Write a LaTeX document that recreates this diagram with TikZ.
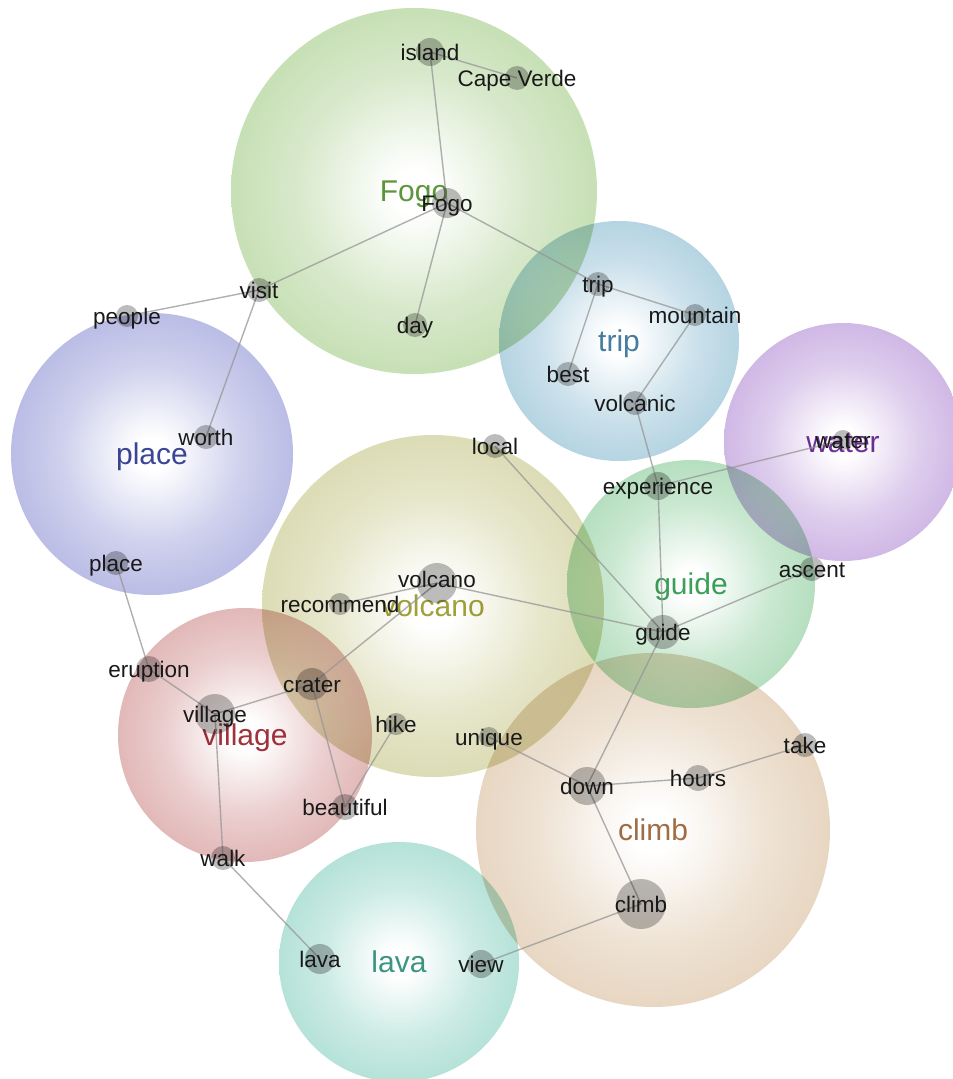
\documentclass[tikz,border=0pt]{standalone}
\usepackage{fontspec}
\setmainfont{Liberation Sans}
\pgfdeclareradialshading[bubcol]{bubble}{\pgfpoint{0bp}{0bp}}{color(0bp)=(white); color(3bp)=(white); color(16bp)=(bubcol!45!white); color(36bp)=(bubcol!88!white); color(50bp)=(bubcol)}
\definecolor{cFogo}{RGB}{168,206,140}
\definecolor{tFogo}{RGB}{95,150,60}
\definecolor{cTrip}{RGB}{140,188,210}
\definecolor{tTrip}{RGB}{70,125,160}
\definecolor{cWater}{RGB}{182,145,215}
\definecolor{tWater}{RGB}{110,50,150}
\definecolor{cPlace}{RGB}{148,152,215}
\definecolor{tPlace}{RGB}{60,70,150}
\definecolor{cVolcano}{RGB}{200,200,140}
\definecolor{tVolcano}{RGB}{160,160,60}
\definecolor{cGuide}{RGB}{140,205,155}
\definecolor{tGuide}{RGB}{60,160,90}
\definecolor{cVillage}{RGB}{210,145,145}
\definecolor{tVillage}{RGB}{160,50,60}
\definecolor{cClimb}{RGB}{218,192,160}
\definecolor{tClimb}{RGB}{160,110,70}
\definecolor{cLava}{RGB}{140,210,195}
\definecolor{tLava}{RGB}{60,150,130}
\definecolor{edgecol}{RGB}{150,150,150}
\definecolor{dotcol}{RGB}{188,188,188}
\definecolor{txtcol}{RGB}{25,25,25}
\tikzset{
  bub/.style={circle, inner sep=0pt, shading=bubble, minimum size=#1,
    font=\fontsize{30}{30}\selectfont, text height=21.5pt, text depth=0pt},
  edge/.style={draw=edgecol, line width=1.4pt, draw opacity=0.75},
  dot/.style={circle, inner sep=0pt, fill=dotcol, minimum size=#1},
  lbl/.style={font=\fontsize{22.5}{22.5}\selectfont, text=txtcol, inner sep=0pt,
    text height=16pt, text depth=0pt}
}
\begin{document}
\begin{tikzpicture}[x=1pt,y=-1pt]
\fill[white] (0,0) rectangle (953,1079);
\useasboundingbox (0,0) rectangle (953,1079);
% positions
\coordinate (p-island) at (430,52);
\coordinate (p-capeverde) at (517,78);
\coordinate (p-fogo) at (447,203);
\coordinate (p-visit) at (259,290);
\coordinate (p-people) at (127,316);
\coordinate (p-day) at (415,325);
\coordinate (p-trip) at (598,284);
\coordinate (p-mountain) at (695,315);
\coordinate (p-best) at (568,374);
\coordinate (p-volcanic) at (635,403);
\coordinate (p-worth) at (206,437);
\coordinate (p-local) at (495,446);
\coordinate (p-experience) at (658,486);
\coordinate (p-water) at (843,440);
\coordinate (p-ascent) at (812,569);
\coordinate (p-place) at (116,563);
\coordinate (p-volcano) at (437,583);
\coordinate (p-recommend) at (340,604);
\coordinate (p-guide) at (663,632);
\coordinate (p-eruption) at (149,669);
\coordinate (p-crater) at (312,684);
\coordinate (p-village) at (215,714);
\coordinate (p-hike) at (396,724);
\coordinate (p-unique) at (489,737);
\coordinate (p-take) at (805,745);
\coordinate (p-hours) at (698,778);
\coordinate (p-down) at (587,786);
\coordinate (p-beautiful) at (345,807);
\coordinate (p-walk) at (223,858);
\coordinate (p-climb) at (641,904);
\coordinate (p-lava) at (320,959);
\coordinate (p-view) at (481,964);
% bubbles
\begin{scope}[blend mode=multiply]
\colorlet{bubcol}{cFogo}
\node[bub=366pt, text=tFogo] (bFogo) at (414,191) {Fogo};
\colorlet{bubcol}{cTrip}
\node[bub=240pt, text=tTrip] (bTrip) at (619,341) {trip};
\colorlet{bubcol}{cWater}
\node[bub=238pt, text=tWater] (bWater) at (843,442) {water};
\colorlet{bubcol}{cPlace}
\node[bub=282pt, text=tPlace] (bPlace) at (152,454) {place};
\colorlet{bubcol}{cVolcano}
\node[bub=342pt, text=tVolcano] (bVolcano) at (433,606) {volcano};
\colorlet{bubcol}{cGuide}
\node[bub=248pt, text=tGuide] (bGuide) at (691,584) {guide};
\colorlet{bubcol}{cVillage}
\node[bub=254pt, text=tVillage] (bVillage) at (245,735) {village};
\colorlet{bubcol}{cClimb}
\node[bub=354pt, text=tClimb] (bClimb) at (653,830) {climb};
\colorlet{bubcol}{cLava}
\node[bub=240pt, text=tLava] (bLava) at (399,962) {lava};
\end{scope}
% edges
\draw[edge] (p-island) -- (p-capeverde);
\draw[edge] (p-island) -- (p-fogo);
\draw[edge] (p-fogo) -- (p-visit);
\draw[edge] (p-fogo) -- (p-day);
\draw[edge] (p-fogo) -- (p-trip);
\draw[edge] (p-visit) -- (p-people);
\draw[edge] (p-visit) -- (p-worth);
\draw[edge] (p-trip) -- (p-mountain);
\draw[edge] (p-trip) -- (p-best);
\draw[edge] (p-mountain) -- (p-volcanic);
\draw[edge] (p-volcanic) -- (p-experience);
\draw[edge] (p-experience) -- (p-water);
\draw[edge] (p-experience) -- (p-guide);
\draw[edge] (p-local) -- (p-guide);
\draw[edge] (p-volcano) -- (p-guide);
\draw[edge] (p-guide) -- (p-ascent);
\draw[edge] (p-guide) -- (p-down);
\draw[edge] (p-volcano) -- (p-recommend);
\draw[edge] (p-volcano) -- (p-crater);
\draw[edge] (p-place) -- (p-eruption);
\draw[edge] (p-eruption) -- (p-village);
\draw[edge] (p-village) -- (p-crater);
\draw[edge] (p-crater) -- (p-beautiful);
\draw[edge] (p-beautiful) -- (p-hike);
\draw[edge] (p-village) -- (p-walk);
\draw[edge] (p-walk) -- (p-lava);
\draw[edge] (p-unique) -- (p-down);
\draw[edge] (p-down) -- (p-hours);
\draw[edge] (p-hours) -- (p-take);
\draw[edge] (p-down) -- (p-climb);
\draw[edge] (p-climb) -- (p-view);
% dots
\begin{scope}[blend mode=multiply]
\node[dot=28pt] (d-island) at (p-island) {};
\node[dot=24pt] (d-capeverde) at (p-capeverde) {};
\node[dot=30pt] (d-fogo) at (p-fogo) {};
\node[dot=24pt] (d-visit) at (p-visit) {};
\node[dot=22pt] (d-people) at (p-people) {};
\node[dot=24pt] (d-day) at (p-day) {};
\node[dot=24pt] (d-trip) at (p-trip) {};
\node[dot=22pt] (d-mountain) at (p-mountain) {};
\node[dot=24pt] (d-best) at (p-best) {};
\node[dot=24pt] (d-volcanic) at (p-volcanic) {};
\node[dot=24pt] (d-worth) at (p-worth) {};
\node[dot=24pt] (d-local) at (p-local) {};
\node[dot=28pt] (d-experience) at (p-experience) {};
\node[dot=20pt] (d-water) at (p-water) {};
\node[dot=24pt] (d-ascent) at (p-ascent) {};
\node[dot=24pt] (d-place) at (p-place) {};
\node[dot=40pt] (d-volcano) at (p-volcano) {};
\node[dot=22pt] (d-recommend) at (p-recommend) {};
\node[dot=34pt] (d-guide) at (p-guide) {};
\node[dot=26pt] (d-eruption) at (p-eruption) {};
\node[dot=32pt] (d-crater) at (p-crater) {};
\node[dot=40pt] (d-village) at (p-village) {};
\node[dot=22pt] (d-hike) at (p-hike) {};
\node[dot=20pt] (d-unique) at (p-unique) {};
\node[dot=24pt] (d-take) at (p-take) {};
\node[dot=26pt] (d-hours) at (p-hours) {};
\node[dot=38pt] (d-down) at (p-down) {};
\node[dot=26pt] (d-beautiful) at (p-beautiful) {};
\node[dot=24pt] (d-walk) at (p-walk) {};
\node[dot=50pt] (d-climb) at (p-climb) {};
\node[dot=30pt] (d-lava) at (p-lava) {};
\node[dot=28pt] (d-view) at (p-view) {};
\end{scope}
% labels
\node[lbl] (t-island) at (p-island) {island};
\node[lbl] (t-capeverde) at (p-capeverde) {Cape Verde};
\node[lbl] (t-fogo) at (p-fogo) {Fogo};
\node[lbl] (t-visit) at (p-visit) {visit};
\node[lbl] (t-people) at (p-people) {people};
\node[lbl] (t-day) at (p-day) {day};
\node[lbl] (t-trip) at (p-trip) {trip};
\node[lbl] (t-mountain) at (p-mountain) {mountain};
\node[lbl] (t-best) at (p-best) {best};
\node[lbl] (t-volcanic) at (p-volcanic) {volcanic};
\node[lbl] (t-worth) at (p-worth) {worth};
\node[lbl] (t-local) at (p-local) {local};
\node[lbl] (t-experience) at (p-experience) {experience};
\node[lbl] (t-water) at (p-water) {water};
\node[lbl] (t-ascent) at (p-ascent) {ascent};
\node[lbl] (t-place) at (p-place) {place};
\node[lbl] (t-volcano) at ([yshift=4pt]p-volcano) {volcano};
\node[lbl] (t-recommend) at (p-recommend) {recommend};
\node[lbl] (t-guide) at (p-guide) {guide};
\node[lbl] (t-eruption) at (p-eruption) {eruption};
\node[lbl] (t-crater) at (p-crater) {crater};
\node[lbl] (t-village) at (p-village) {village};
\node[lbl] (t-hike) at (p-hike) {hike};
\node[lbl] (t-unique) at (p-unique) {unique};
\node[lbl] (t-take) at (p-take) {take};
\node[lbl] (t-hours) at (p-hours) {hours};
\node[lbl] (t-down) at (p-down) {down};
\node[lbl] (t-beautiful) at (p-beautiful) {beautiful};
\node[lbl] (t-walk) at (p-walk) {walk};
\node[lbl] (t-climb) at (p-climb) {climb};
\node[lbl] (t-lava) at (p-lava) {lava};
\node[lbl] (t-view) at (p-view) {view};
\end{tikzpicture}
\end{document}
